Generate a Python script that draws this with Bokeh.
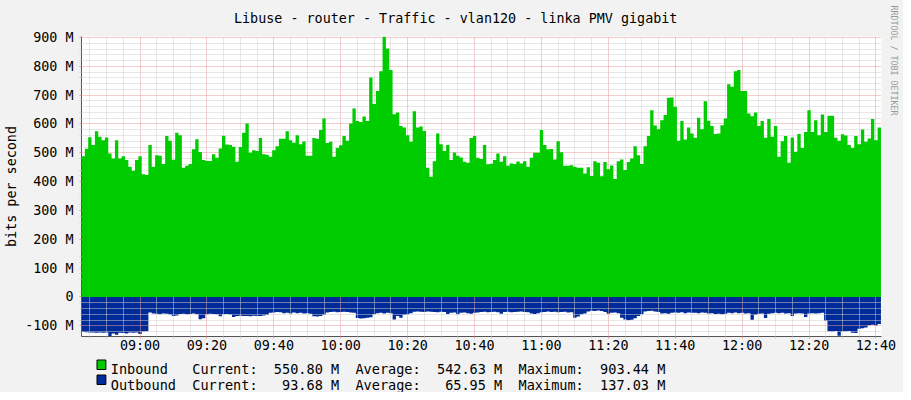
import math
from bokeh.plotting import figure
from bokeh.layouts import column
from bokeh.models import Range1d, FixedTicker, ColumnDataSource, Title
from bokeh.core.properties import value
from bokeh.embed import file_html
from bokeh.resources import INLINE

# ---------------- data ----------------
title_text = "Libuse - router - Traffic - vlan120 - linka PMV gigabit"
y_axis_text = "bits per second"
credit_text = "RRDTOOL / TOBI OETIKER"

start_minute = 8 * 60 + 42.5        # 08:42:30, first sample
step_minutes = 1
end_minute = 761.66                 # right edge of the graph

time_ticks = [540, 560, 580, 600, 620, 640, 660, 680, 700, 720, 740, 760]
time_labels = ["09:00", "09:20", "09:40", "10:00", "10:20", "10:40",
               "11:00", "11:20", "11:40", "12:00", "12:20", "12:40"]
value_ticks = [-100, 0, 100, 200, 300, 400, 500, 600, 700, 800, 900]
value_labels = ["-100 M", "0", "100 M", "200 M", "300 M", "400 M",
                "500 M", "600 M", "700 M", "800 M", "900 M"]

# Inbound traffic, Mbit/s, one value per minute
inbound = [
    488, 514, 554, 527, 575, 556, 544, 553, 498, 480,
    544, 480, 488, 475, 452, 438, 475, 488, 426, 423,
    527, 452, 492, 490, 461, 558, 542, 476, 570, 561,
    448, 455, 461, 512, 547, 503, 475, 472, 472, 495,
    483, 515, 559, 529, 527, 521, 469, 520, 570, 602,
    500, 509, 506, 551, 495, 493, 486, 509, 523, 549,
    549, 575, 544, 535, 561, 530, 539, 490, 490, 551,
    549, 579, 619, 534, 538, 486, 517, 526,
    558, 542, 602, 654, 610, 607, 626, 610, 761, 669,
    714, 783, 903, 862, 787, 634, 640, 593, 588, 561,
    538, 644, 588, 591, 576, 448, 417, 471, 567, 530,
    506, 527, 475, 501, 490, 484, 469, 466, 551, 558,
    483, 479, 527, 460, 462, 475, 498, 469, 488, 455,
    463, 461, 470, 463, 471, 452, 483, 500, 500, 579,
    527, 512, 513, 477, 540, 502, 455, 455, 457, 452,
    448, 448, 428, 450, 420, 471, 466,
    419, 468, 443, 456, 409, 471, 477, 440, 468, 480,
    523, 492, 461, 523, 558, 648, 595, 582, 613, 631,
    691, 692, 660, 542, 610, 546, 588, 567, 552, 622,
    582, 679, 611, 593, 565, 567, 596, 619, 738, 729,
    783, 787, 714, 714, 636, 627, 640, 593, 610, 552,
    617, 556, 593, 486, 540, 558, 466, 553, 504, 565,
    517, 572, 648, 572, 613, 561, 633, 572, 629, 629,
    552, 542, 564, 560, 527, 517, 558, 530, 581, 538,
    550, 617, 544, 588,
]

# Outbound traffic, Mbit/s (drawn below zero)
outbound = [
    121, 122, 123, 123, 124, 123, 124, 123, 137, 127,
    131, 124, 125, 127, 123, 124, 123, 128, 120, 119,
    54, 57, 58, 60, 57, 58, 61, 66, 64, 59,
    58, 60, 59, 57, 60, 77, 74, 60, 58, 59,
    60, 67, 60, 59, 61, 69, 66, 65, 66, 66,
    67, 65, 66, 66, 64, 62, 55, 54, 52, 53,
    56, 55, 57, 54, 56, 55, 57, 56, 58, 67,
    68, 66, 62, 54, 52, 51, 53, 52, 51, 52,
    54, 55, 73, 75, 74, 72, 70, 60, 56, 55,
    57, 55, 56, 78, 66, 72, 62, 60, 56, 51,
    50, 51, 52, 50, 51, 52, 53, 51, 52, 59,
    55, 54, 60, 55, 54, 56, 58, 55, 54, 52,
    51, 53, 52, 51, 53, 58, 52, 51, 53, 52,
    51, 50, 52, 53, 57, 59, 56, 53, 52, 50,
    52, 51, 53, 52, 51, 54, 53, 72, 68, 60,
    57, 50, 48, 49, 47, 49, 52, 58, 55, 54,
    56, 72, 78, 81, 79, 74, 66, 60, 50, 49,
    48, 50, 52, 57, 56, 58, 55, 54, 55, 53,
    56, 54, 55, 55, 56, 54, 55, 57, 56, 59,
    58, 60, 58, 55, 56, 54, 56, 55, 57, 56,
    79, 62, 58, 57, 73, 58, 56, 55, 56, 55,
    57, 56, 66, 57, 56, 57, 69, 57, 56, 57,
    56, 55, 82, 119, 120, 118, 134, 120, 119, 118,
    124, 125, 110, 108, 106, 98, 96, 99, 94,
]

series_names = ["Inbound", "Outbound"]
current_vals = ["550.80", "93.68"]
average_vals = ["542.63", "65.95"]
maximum_vals = ["903.44", "137.03"]
value_unit = "M"

# ---------------- styling ----------------
BG = "#F2F2F2"
GREEN = "#00CC00"
BLUE = "#002A97"
MINOR = "#cfcfcf"
MAJOR = "#e79a9a"
AXIS = "#555555"
FONT = "DejaVu Sans Mono"
FS = "13.4px"
FS_LEG = "13.55px"
W = 903
H_TOTAL = 392
H_MAIN = 356
H_LEG = H_TOTAL - H_MAIN
LEG_SHIFT = 4.5    # the legend strip is drawn this much lower than its nominal place
HOST_CSS = ":host { background-color: #F2F2F2; }"

y_max = float(maximum_vals[0])
y_min = -float(maximum_vals[1])

p = figure(width=W, height=H_MAIN, output_backend="svg", toolbar_location=None,
           x_range=Range1d(start_minute, end_minute), y_range=Range1d(y_min, y_max),
           min_border_left=81, min_border_right=22, min_border_top=36,
           min_border_bottom=H_MAIN - 336,
           background_fill_color="white", border_fill_color=BG, outline_line_color=None)
p.stylesheets = [HOST_CSS]

# title
p.title.text = title_text
p.title.text_font = FONT
p.title.text_font_size = FS
p.title.text_font_style = "normal"
p.title.text_color = "black"
p.title.align = "left"
p.title.offset = 152.5
p.title.vertical_align = "top"
p.title.standoff = 18

n = len(inbound)
xs = [start_minute + i * step_minutes for i in range(n)] + [start_minute + n * step_minutes]
src = ColumnDataSource(dict(
    x=xs,
    zero=[0] * (n + 1),
    inb=inbound + [inbound[-1]],
    outb=[-v for v in outbound] + [-outbound[-1]],
))

p.varea_step(x="x", y1="zero", y2="outb", step_mode="after", source=src,
             fill_color=BLUE, level="image")
p.varea_step(x="x", y1="zero", y2="inb", step_mode="after", source=src,
             fill_color=GREEN)

time_minor = [m for m in range(525, 761, 5) if m % 20 != 0]
value_minor = [v for v in range(-120, 901, 20) if v % 100 != 0]
xt = FixedTicker(ticks=time_ticks, minor_ticks=time_minor)
yt = FixedTicker(ticks=value_ticks, minor_ticks=value_minor)

for ax, tk, labs, vals in ((p.xaxis[0], xt, time_labels, time_ticks),
                           (p.yaxis[0], yt, value_labels, value_ticks)):
    ax.ticker = tk
    ax.major_label_overrides = {v: l for v, l in zip(vals, labs)}
    ax.major_tick_in = 0
    ax.major_tick_out = 2
    ax.minor_tick_in = 0
    ax.minor_tick_out = 2
    ax.major_tick_line_color = MAJOR
    ax.minor_tick_line_color = MINOR
    ax.axis_line_color = AXIS
    ax.major_label_text_font = FONT
    ax.major_label_text_font_size = FS
    ax.major_label_text_color = "black"

p.xaxis[0].major_label_standoff = -1
p.xaxis[0].bounds = (start_minute - 1.2, end_minute + 0.9)
p.yaxis[0].major_label_standoff = 6
p.yaxis[0].bounds = (y_min - 10, y_max + 10)
p.yaxis[0].axis_label = y_axis_text
p.yaxis[0].axis_label_text_font = FONT
p.yaxis[0].axis_label_text_font_size = FS
p.yaxis[0].axis_label_text_font_style = "normal"
p.yaxis[0].axis_label_text_color = "black"
p.yaxis[0].axis_label_standoff = 3

for g in (p.xgrid[0], p.ygrid[0]):
    g.grid_line_color = MAJOR
    g.grid_line_dash = "1 1"
    g.minor_grid_line_color = MINOR
    g.minor_grid_line_dash = "1 1"

# credit text on the right edge
p.add_layout(Title(text=credit_text, align="left", offset=-31, standoff=10,
                   vertical_align="top",
                   text_font=FONT, text_font_size="8.3px", text_font_style="normal",
                   text_color="#9a9a9a"), "right")

# ---------------- legend strip (pixel coordinates of the whole picture) ----------------
leg_top = H_MAIN
leg = figure(width=W, height=H_LEG, output_backend="svg", toolbar_location=None,
             title=None,
             x_range=Range1d(0, W), y_range=Range1d(leg_top + H_LEG, leg_top),
             min_border=0, min_border_left=0, min_border_right=0,
             min_border_top=0, min_border_bottom=0,
             x_axis_location=None, y_axis_location=None,
             background_fill_color=BG, border_fill_color=BG, outline_line_color=None)
leg.stylesheets = [HOST_CSS]
leg.grid.visible = False
leg.quad(left=[0], right=[W], top=[leg_top], bottom=[leg_top + H_LEG],
         fill_color=BG, line_color=None, level="image")

colors = [GREEN, BLUE]
box_top = [364 - LEG_SHIFT, 379 - LEG_SHIFT]
row_base = [373.3 - LEG_SHIFT, 388.7 - LEG_SHIFT]
lines = []
for k in range(2):
    lines.append((f"{series_names[k]:<10}Current:{current_vals[k]:>8} {value_unit}  "
                  f"Average:{average_vals[k]:>8} {value_unit}  "
                  f"Maximum:{maximum_vals[k]:>8} {value_unit}").replace(" ", "\u00a0"))

leg.quad(left=[17.5, 17.5], right=[27.5, 27.5],
         top=box_top, bottom=[t + 9.5 for t in box_top],
         fill_color=colors, line_color="black", line_width=1)
leg.text(x=[33, 33], y=row_base, text=lines,
         text_font=value(FONT), text_font_size=value(FS_LEG),
         text_baseline="alphabetic", text_align="left", text_color="black")

layout = column(p, leg, spacing=0)
layout.styles = {"background-color": BG}
layout.stylesheets = [HOST_CSS]
open("out.html", "w").write(file_html(layout, INLINE))
